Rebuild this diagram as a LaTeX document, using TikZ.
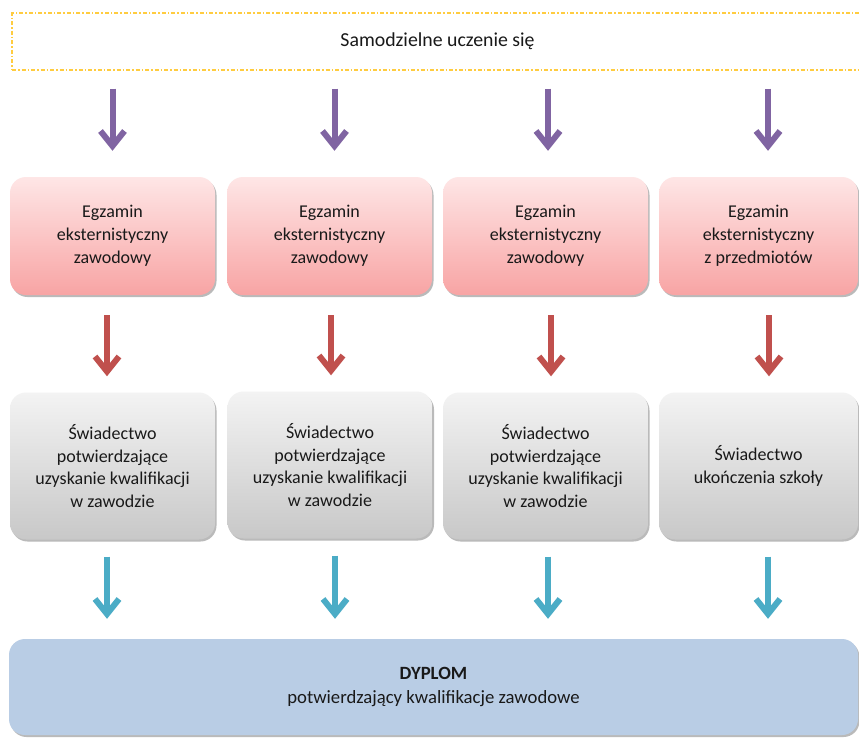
\documentclass[tikz,border=0pt]{standalone}
\usepackage{fontspec}
\setmainfont{Carlito}
\usetikzlibrary{arrows.meta,shadows}
\definecolor{arrpurple}{HTML}{8064A2}
\definecolor{arrred}{HTML}{C0504D}
\definecolor{arrteal}{HTML}{4BACC6}
\definecolor{pinktop}{HTML}{FEE6E6}
\definecolor{pinkbot}{HTML}{F8A4A4}
\definecolor{graytop}{HTML}{F3F3F3}
\definecolor{graybot}{HTML}{C8C8C8}
\definecolor{dyplomblue}{HTML}{B9CDE5}
\definecolor{dashyellow}{HTML}{FFCC40}
\tikzset{
  txt/.style={font=\fontsize{18}{22.8}\selectfont, text=black!90, align=center, inner sep=0pt},
  boxshadow/.style={drop shadow={shadow xshift=1.5pt, shadow yshift=-2pt, fill=black!45, opacity=0.6}},
  pinkbox/.style={txt, rounded corners=16pt, minimum height=118pt, top color=pinktop, bottom color=pinkbot, boxshadow},
  graybox/.style={txt, rounded corners=16pt, minimum height=147pt, top color=graytop, bottom color=graybot, boxshadow},
  dyplombox/.style={txt, font=\fontsize{18.7}{24.5}\selectfont, rounded corners=16pt, minimum width=849pt, minimum height=96pt, fill=dyplomblue, boxshadow},
  topbox/.style={txt, font=\fontsize{19.8}{24}\selectfont, draw=dashyellow, line width=1.1pt, dash pattern=on 4pt off 2pt on 1.5pt off 2pt, minimum width=851pt, minimum height=57pt},
  arrowbase/.style={line width=6pt, -{Straight Barb[length=15pt,width=24pt,line width=6pt]},
    preaction={draw=black!40, transform canvas={shift={(1pt,-1.5pt)}}}},
  purplearrow/.style={arrowbase, draw=arrpurple},
  redarrow/.style={arrowbase, draw=arrred},
  tealarrow/.style={arrowbase, draw=arrteal},
}
\begin{document}
\begin{tikzpicture}[x=1pt,y=-1pt]
\clip (0,0) rectangle (859,737);
\fill[white] (0,0) rectangle (859,737);

\node[topbox] (top) at (437.5,41.5) {Samodzielne uczenie się};

\node[pinkbox, minimum width=205pt] (p1) at (112.5,236) {Egzamin\\eksternistyczny\\zawodowy};
\node[pinkbox, minimum width=205pt] (p2) at (329.5,236) {Egzamin\\eksternistyczny\\zawodowy};
\node[pinkbox, minimum width=205pt] (p3) at (545.5,236) {Egzamin\\eksternistyczny\\zawodowy};
\node[pinkbox, minimum width=199pt] (p4) at (758.5,236) {Egzamin\\eksternistyczny\\z przedmiotów};

\node[graybox, minimum width=205pt] (g1) at (112.5,466) {Świadectwo\\potwierdzające\\uzyskanie kwalifikacji\\w zawodzie};
\node[graybox, minimum width=205pt] (g2) at (330,465) {Świadectwo\\potwierdzające\\uzyskanie kwalifikacji\\w zawodzie};
\node[graybox, minimum width=205pt] (g3) at (545.5,466) {Świadectwo\\potwierdzające\\uzyskanie kwalifikacji\\w zawodzie};
\node[graybox, minimum width=199pt] (g4) at (758.5,466) {Świadectwo\\ukończenia szkoły};

\node[dyplombox] (d) at (433.5,687) {\textbf{DYPLOM}\\potwierdzający kwalifikacje zawodowe};

% purple arrows
\foreach \n/\dx in {p1/0, p2/5, p3/2.5, p4/9.5}{
  \draw[purplearrow, shorten <=18pt, shorten >=26pt] ([xshift=\dx pt]\n.north |- top.south) -- ([xshift=\dx pt]\n.north);
}
% red arrows
\foreach \a/\b/\dx in {p1/g1/-5.5, p2/g2/1.5, p3/g3/5.5, p4/g4/10.5}{
  \draw[redarrow, shorten <=20pt, shorten >=16pt] ([xshift=\dx pt]\a.south) -- ([xshift=\dx pt]\a.south |- \b.north);
}
% teal arrows
\foreach \b/\dx in {g1/-5.5, g2/5, g3/2.5, g4/9.5}{
  \draw[tealarrow, shorten <=17pt, shorten >=20pt] ([xshift=\dx pt]\b.south) -- ([xshift=\dx pt]\b.south |- d.north);
}
\end{tikzpicture}
\end{document}
